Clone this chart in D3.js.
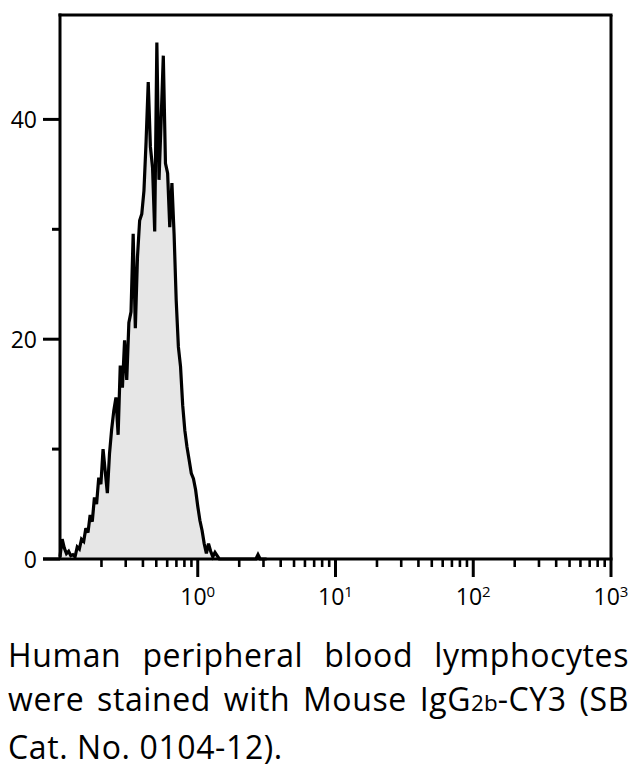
<!DOCTYPE html>
<html>
<head>
<meta charset="utf-8">
<script src="https://cdn.jsdelivr.net/npm/d3@7"></script>
<style>
  html, body { margin: 0; padding: 0; background: #fff; }
  body { width: 638px; height: 768px; position: relative; overflow: hidden; }
  svg { position: absolute; left: 0; top: 0; }
  .caption { position: absolute; left: 8px; width: 621px; font-family: "Open Sans", sans-serif;
             font-size: 32px; line-height: 44px; color: #000; white-space: nowrap; letter-spacing: 0.6px; }
  .caption .line { text-align: justify; text-align-last: justify; white-space: normal; }
  .caption .last { text-align: left; text-align-last: left; }
  .caption .sub { font-size: 0.7em; letter-spacing: 0; }
</style>
</head>
<body>
<div class="caption" id="caption" style="top:633px"></div>
<script>
// Histogram channels (fluorescence intensity) and event counts
const intensity = [
  0.1000, 0.1037, 0.1075, 0.1114, 0.1155, 0.1197, 0.1241, 0.1286, 0.1334, 0.1382,
  0.1433, 0.1486, 0.1540, 0.1596, 0.1655, 0.1715, 0.1778, 0.1843, 0.1911, 0.1981,
  0.2054, 0.2129, 0.2207, 0.2288, 0.2371, 0.2458, 0.2548, 0.2642, 0.2738, 0.2839,
  0.2943, 0.3051, 0.3162, 0.3278, 0.3398, 0.3523, 0.3652, 0.3786, 0.3924, 0.4068,
  0.4217, 0.4371, 0.4532, 0.4698, 0.4870, 0.5048, 0.5233, 0.5425, 0.5623, 0.5829,
  0.6043, 0.6264, 0.6494, 0.6732, 0.6978, 0.7234, 0.7499, 0.7774, 0.8058, 0.8354,
  0.8660, 0.8977, 0.9306, 0.9647, 1.000, 1.037, 1.075, 1.114, 1.155, 1.197,
  1.241, 1.286, 1.334, 1.382, 1.433, 1.486, 1.540, 1.596, 1.655, 1.715,
  1.778, 1.843, 1.911, 1.981, 2.054, 2.129, 2.207, 2.288, 2.371, 2.458,
  2.548, 2.642, 2.738, 2.839, 2.943, 3.051, 3.162
];
const counts = [
  0.2, 1.8, 1.0, 0.5, 0.7, 0.3, 0.4, 0.2, 1.1, 0.9,
  1.8, 1.6, 2.8, 2.4, 4.0, 3.4, 5.6, 5.0, 7.4, 6.8,
  10.0, 8.0, 6.0, 9.6, 11.8, 13.5, 14.7, 11.3, 17.6, 15.6,
  19.9, 16.3, 21.5, 22.5, 29.6, 21.0, 27.5, 30.8, 31.4, 33.5,
  38.0, 43.4, 37.5, 35.6, 29.8, 47.0, 34.5, 40.0, 45.8, 36.0,
  35.1, 30.2, 34.2, 29.6, 23.5, 19.3, 17.5, 14.0, 11.7, 10.2,
  9.0, 7.8, 7.3, 6.3, 4.8, 3.5, 2.6, 1.4, 0.5, 1.4,
  0.7, 0.2, 0.6, 0.3, 0, 0, 0, 0, 0, 0,
  0, 0, 0, 0, 0, 0, 0, 0, 0, 0,
  0, 0, 0.4, 0, 0, 0, 0
];
const xDomain = [0.1, 1000];
const yDomain = [0, 49.5];
const xMajorTicks = [1, 10, 100, 1000];
const xMajorExponents = ["0", "1", "2", "3"];
const yTicks = [0, 10, 20, 30, 40];
const yLabeledTicks = [0, 20, 40];
const captionLines = [
  ["Human peripheral blood lymphocytes"],
  ["were stained with Mouse IgG", "2b", "-CY3 (SB"],
  ["Cat. No. 0104-12)."]
];

(function () {
const W = 638, H = 768;
const pL = 60, pR = 611, pT = 15, pB = 559;
const svg = d3.select("body").append("svg").attr("width", W).attr("height", H);

const x = d3.scaleLog().domain(xDomain).range([pL, pR]);
const y = d3.scaleLinear().domain(yDomain).range([pB, pT]);

const data = intensity.map((v, i) => ({ v, c: counts[i] }));

svg.append("path")
  .datum(data)
  .attr("fill", "#e6e6e6")
  .attr("d", d3.area().x(d => x(d.v)).y0(y(0)).y1(d => y(d.c)));
svg.append("path")
  .datum(data)
  .attr("fill", "none")
  .attr("stroke", "#000")
  .attr("stroke-width", 3.2)
  .attr("stroke-linejoin", "miter")
  .attr("stroke-miterlimit", 3)
  .attr("d", d3.line().x(d => x(d.v)).y(d => y(d.c)));

const axisColor = "#000";
const sw = 3;
svg.append("line").attr("x1", pL).attr("x2", pL).attr("y1", pT - sw / 2).attr("y2", pB)
  .attr("stroke", axisColor).attr("stroke-width", sw);
svg.append("line").attr("x1", pL - sw / 2).attr("x2", pR + sw / 2).attr("y1", pT).attr("y2", pT)
  .attr("stroke", axisColor).attr("stroke-width", sw);
svg.append("line").attr("x1", pR).attr("x2", pR).attr("y1", pT).attr("y2", pB)
  .attr("stroke", axisColor).attr("stroke-width", sw);
svg.append("line").attr("x1", 43).attr("x2", pR + sw / 2).attr("y1", pB).attr("y2", pB)
  .attr("stroke", axisColor).attr("stroke-width", sw);

const minor = x.ticks().filter(t => t > xDomain[0] * 1.001 && !xMajorTicks.some(m => Math.abs(m - t) / m < 1e-6));
svg.append("g").selectAll("line").data(minor).join("line")
  .attr("x1", d => x(d)).attr("x2", d => x(d))
  .attr("y1", pB).attr("y2", pB + 8)
  .attr("stroke", axisColor).attr("stroke-width", 2.6);
svg.append("g").selectAll("line").data(xMajorTicks).join("line")
  .attr("x1", d => x(d)).attr("x2", d => x(d))
  .attr("y1", pB).attr("y2", pB + 18)
  .attr("stroke", axisColor).attr("stroke-width", sw);
const xl = svg.append("g").selectAll("text").data(xMajorTicks).join("text")
  .attr("x", d => x(d)).attr("y", 605)
  .attr("text-anchor", "middle")
  .attr("font-family", "Open Sans, sans-serif").attr("font-size", 23).attr("fill", "#000");
xl.append("tspan").text("10");
xl.append("tspan").attr("font-size", 15).attr("dy", -8).text((d, i) => xMajorExponents[i]);

svg.append("g").selectAll("line").data(yTicks).join("line")
  .attr("x1", d => yLabeledTicks.includes(d) ? 43 : 52).attr("x2", pL)
  .attr("y1", d => y(d)).attr("y2", d => y(d))
  .attr("stroke", axisColor).attr("stroke-width", sw);
svg.append("g").selectAll("text").data(yLabeledTicks).join("text")
  .attr("x", 37).attr("y", d => y(d) + 8.5)
  .attr("text-anchor", "end")
  .attr("font-family", "Open Sans, sans-serif").attr("font-size", 23).attr("fill", "#000")
  .text(d => d);

const cap = d3.select("#caption");
captionLines.forEach((parts, li) => {
  const div = cap.append("div").attr("class", li === captionLines.length - 1 ? "line last" : "line");
  parts.forEach((p, pi) => {
    if (li === 1 && pi === 1) div.append("span").attr("class", "sub").text(p);
    else div.append("span").text(p);
  });
});
})();
</script>
</body>
</html>
